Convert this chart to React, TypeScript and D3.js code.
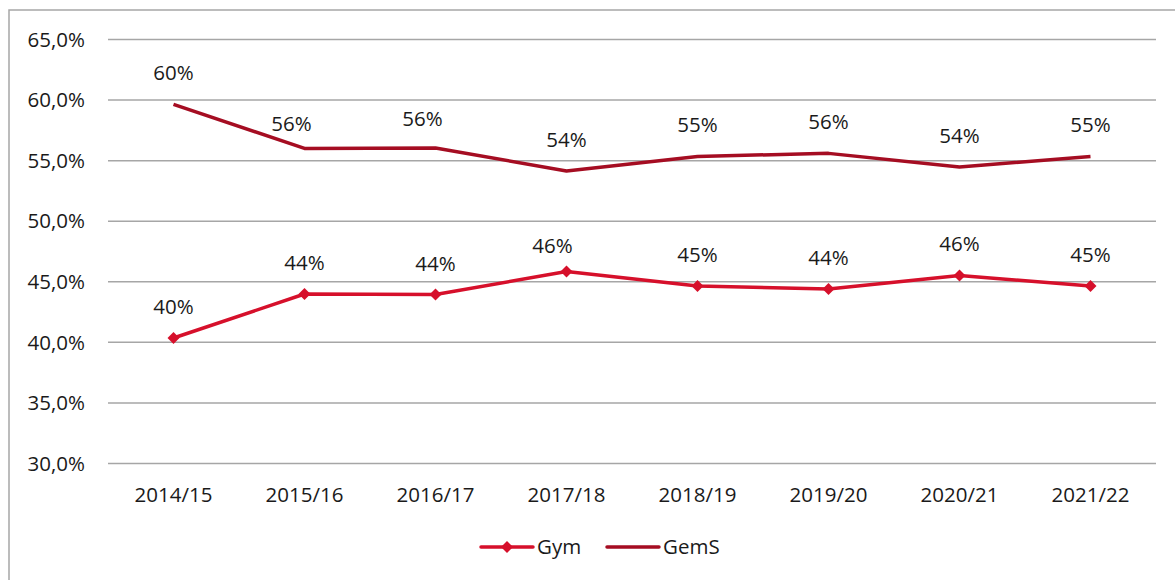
import React from "react";
import * as d3 from "d3";

const categories = ["2014/15", "2015/16", "2016/17", "2017/18", "2018/19", "2019/20", "2020/21", "2021/22"];
const gymValues = [40.36, 43.99, 43.95, 45.85, 44.65, 44.4, 45.52, 44.65];
const gemsValues = [59.64, 56.01, 56.05, 54.15, 55.35, 55.6, 54.48, 55.35];
const gymLabels = ["40%", "44%", "44%", "46%", "45%", "44%", "46%", "45%"];
const gemsLabels = ["60%", "56%", "56%", "54%", "55%", "56%", "54%", "55%"];
const yTicks = [30, 35, 40, 45, 50, 55, 60, 65];

// manual label nudges (dx, dy) as in the original chart
const gymNudge: [number, number][] = [[0, 0], [0, 0], [0, 0], [-14, 6], [0, 0], [0, 0], [0, 0], [0, 0]];
const gemsNudge: [number, number][] = [[0, 0], [-13, 7], [-13, 2], [0, 0], [0, 0], [0, 0], [0, 0], [0, 0]];

const GYM = "#d6102b";
const GEMS = "#a50d22";
const FONT = "'Open Sans', 'Noto Sans', sans-serif";
const FS = 20.5;
const TXT = "#1a1a1a";

export default function App() {
  const W = 1175, H = 580;
  const x = d3.scaleBand<string>().domain(categories).range([108, 1156]);
  const y = d3.scaleLinear().domain([30, 65]).range([463.5, 39.5]);
  const cx = (c: string) => (x(c) as number) + x.bandwidth() / 2;
  const line = d3.line<number>().x((_, i) => cx(categories[i])).y((d) => y(d));
  const diamond = d3.symbol().type(d3.symbolSquare).size(72)() as string;
  const fmt = (v: number) => v.toFixed(1).replace(".", ",") + "%";

  return (
    <svg width={W} height={H} style={{ position: "absolute", left: 0, top: 0 }} fontFamily={FONT}>
      <rect x={0} y={0} width={W} height={H} fill="#fff" />
      <rect x={9} y={10} width={W + 20} height={H + 20} fill="none" stroke="#a6a6a6" strokeWidth={1.5} />
      {yTicks.map((t) => (
        <g key={t}>
          <line x1={108} x2={1156} y1={y(t)} y2={y(t)} stroke="#a6a6a6" strokeWidth={1.5} />
          <text x={85} y={y(t)} dy="0.35em" textAnchor="end" fontSize={FS} fill={TXT}>{fmt(t)}</text>
        </g>
      ))}
      {categories.map((c) => (
        <text key={c} x={cx(c)} y={502} textAnchor="middle" fontSize={FS} fill={TXT}>{c}</text>
      ))}
      <path d={line(gemsValues) as string} fill="none" stroke={GEMS} strokeWidth={3.5} strokeLinejoin="round" />
      <path d={line(gymValues) as string} fill="none" stroke={GYM} strokeWidth={3.5} strokeLinejoin="round" />
      {gymValues.map((v, i) => (
        <path key={i} d={diamond} transform={`translate(${cx(categories[i])},${y(v)}) rotate(45)`} fill={GYM} />
      ))}
      {gemsValues.map((v, i) => (
        <text key={"g" + i} x={cx(categories[i]) + gemsNudge[i][0]} y={y(v) - 24 + gemsNudge[i][1]} textAnchor="middle" fontSize={FS} fill={TXT}>{gemsLabels[i]}</text>
      ))}
      {gymValues.map((v, i) => (
        <text key={"y" + i} x={cx(categories[i]) + gymNudge[i][0]} y={y(v) - 24 + gymNudge[i][1]} textAnchor="middle" fontSize={FS} fill={TXT}>{gymLabels[i]}</text>
      ))}
      <g>
        <line x1={481} x2={533} y1={547} y2={547} stroke={GYM} strokeWidth={3.5} strokeLinecap="round" />
        <path d={diamond} transform="translate(507,547) rotate(45)" fill={GYM} />
        <text x={537} y={547} dy="0.35em" fontSize={FS} fill={TXT}>Gym</text>
        <line x1={607} x2={659} y1={547} y2={547} stroke={GEMS} strokeWidth={3.5} strokeLinecap="round" />
        <text x={663} y={547} dy="0.35em" fontSize={FS} fill={TXT}>GemS</text>
      </g>
    </svg>
  );
}
